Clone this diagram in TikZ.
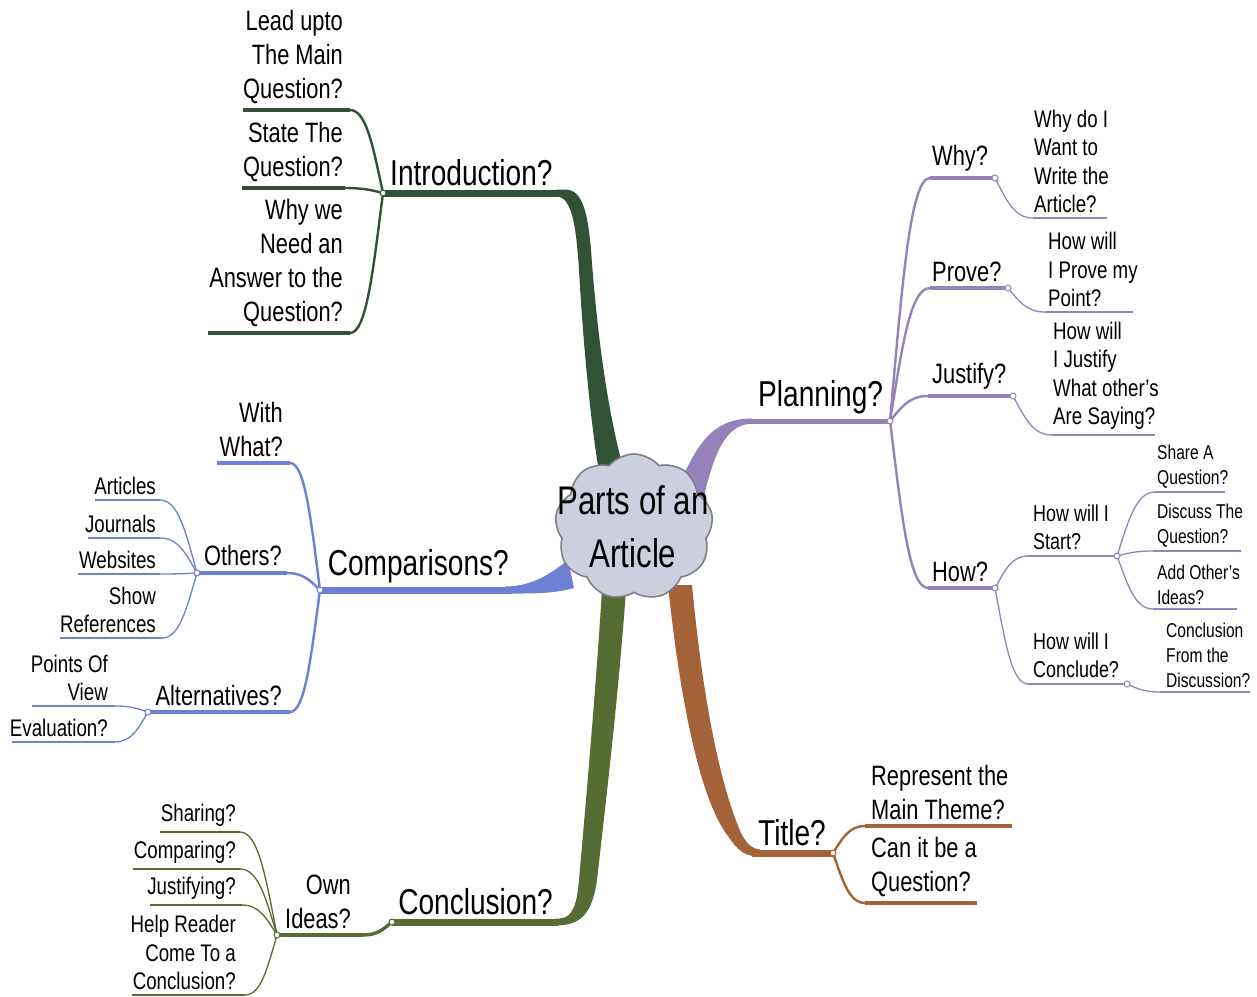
\documentclass[tikz,border=0pt]{standalone}
\usepackage{fontspec}
\setmainfont{Liberation Sans}[FakeStretch=0.78]
\usetikzlibrary{shapes.symbols,calc}

\definecolor{cIntro}{RGB}{50,82,55}
\definecolor{cConcl}{RGB}{86,108,50}
\definecolor{cComp}{RGB}{108,128,214}
\definecolor{cPlan}{RGB}{150,130,186}
\definecolor{cTitle}{RGB}{163,98,56}
\definecolor{cCloud}{RGB}{204,207,221}
\definecolor{cCloudEdge}{RGB}{128,128,132}

\tikzset{
  tA/.style={inner sep=0pt, font={\fontsize{36}{42}\selectfont}},
  tB/.style={inner sep=0pt, font={\fontsize{28}{34}\selectfont}},
  tC/.style={inner sep=0pt, font={\fontsize{24}{28.5}\selectfont}},
  tD/.style={inner sep=0pt, font={\fontsize{23}{28}\selectfont}},
  tE/.style={inner sep=0pt, font={\fontsize{20}{25}\selectfont}},
  lblL/.style={anchor=south east, align=right},
  lblR/.style={anchor=south west, align=left},
  link/.style={to path={let \p1=(\tikztostart), \p2=(\tikztotarget) in
      .. controls ({\x1+0.3*(\x2-\x1)},{\y1+0.55*(\y2-\y1)}) and ({\x2-0.5*(\x2-\x1)},\y2) .. (\tikztotarget)}},
  lk2/.style={link, line width=2.4pt, line cap=round},
  lk3/.style={link, line width=1.3pt, line cap=round},
  ul1/.style={line width=7pt},
  ul2/.style={line width=3.4pt},
  ul3/.style={line width=1.6pt},
  junc/.style={circle, fill=white, draw, line width=1pt, inner sep=0pt, minimum size=6pt},
}

\begin{document}
\begin{tikzpicture}[x=1pt,y=-1pt]
\fill[white] (0,0) rectangle (1257,996);
\useasboundingbox (0,0) rectangle (1257,996);

% ---------- anchor points of every topic line ----------
% Introduction
\coordinate (intro-j) at (383,193);  \coordinate (intro-e) at (560,193);
\coordinate (lead-a) at (350,110);   \coordinate (lead-b) at (243,110);
\coordinate (state-a) at (345,188);  \coordinate (state-b) at (242,188);
\coordinate (whywe-a) at (350,333);  \coordinate (whywe-b) at (208,333);
% Planning
\coordinate (plan-e) at (745,421);   \coordinate (plan-j) at (890,421);
\coordinate (why-a) at (930,178);    \coordinate (why-b) at (995,178);
\coordinate (whydo-a) at (1033,218); \coordinate (whydo-b) at (1107,218);
\coordinate (prove-a) at (930,288);  \coordinate (prove-b) at (1008,288);
\coordinate (prhow-a) at (1045,312); \coordinate (prhow-b) at (1133,312);
\coordinate (just-a) at (928,396);   \coordinate (just-b) at (1013,396);
\coordinate (jshow-a) at (1052,435); \coordinate (jshow-b) at (1155,435);
\coordinate (how-a) at (928,588);    \coordinate (how-b) at (995,588);
\coordinate (start-a) at (1028,556); \coordinate (start-b) at (1117,556);
\coordinate (share-a) at (1155,492); \coordinate (share-b) at (1225,492);
\coordinate (disc-a) at (1153,551);  \coordinate (disc-b) at (1241,551);
\coordinate (addo-a) at (1153,609);  \coordinate (addo-b) at (1237,609);
\coordinate (hconc-a) at (1028,684); \coordinate (hconc-b) at (1127,684);
\coordinate (cfrom-a) at (1160,692); \coordinate (cfrom-b) at (1250,692);
% Comparisons
\coordinate (comp-j) at (320,590);   \coordinate (comp-e) at (512,590);
\coordinate (with-a) at (290,463);   \coordinate (with-b) at (217,463);
\coordinate (oth-a) at (287,573);    \coordinate (oth-b) at (197,573);
\coordinate (alt-a) at (290,712);    \coordinate (alt-b) at (148,712);
\coordinate (art-a) at (160,500);    \coordinate (art-b) at (95,500);
\coordinate (jour-a) at (160,538);   \coordinate (jour-b) at (88,538);
\coordinate (web-a) at (160,574);    \coordinate (web-b) at (78,574);
\coordinate (sref-a) at (162,638);   \coordinate (sref-b) at (60,638);
\coordinate (pov-a) at (115,706);    \coordinate (pov-b) at (32,706);
\coordinate (eval-a) at (115,742);   \coordinate (eval-b) at (12,742);
% Conclusion
\coordinate (concl-j) at (392,922);  \coordinate (concl-e) at (558,922);
\coordinate (own-a) at (363,935);    \coordinate (own-b) at (277,935);
\coordinate (shar-a) at (240,832);   \coordinate (shar-b) at (160,832);
\coordinate (cmpg-a) at (240,869);   \coordinate (cmpg-b) at (133,869);
\coordinate (jstf-a) at (242,905);   \coordinate (jstf-b) at (150,905);
\coordinate (help-a) at (245,995);   \coordinate (help-b) at (132,995);
% Title
\coordinate (title-e) at (752,853);  \coordinate (title-j) at (833,853);
\coordinate (rep-a) at (865,826);    \coordinate (rep-b) at (1012,826);
\coordinate (canq-a) at (865,903);   \coordinate (canq-b) at (977,903);

% ---------- thick main branches ----------
\fill[cIntro] (556,189.5) -- (566,189.5) .. controls (583,190) and (588,215) .. (591,250)
  .. controls (596,320) and (606,410) .. (626,478) -- (600,478)
  .. controls (590,420) and (583,340) .. (579,270)
  .. controls (576,225) and (572,196.5) .. (556,196.5) -- cycle;
\fill[cPlan] (682,478) .. controls (698,445) and (712,418.5) .. (752,418.5) -- (752,423.5)
  .. controls (726,425) and (715,450) .. (703,500) -- cycle;
\fill[cComp] (505,586.5) .. controls (530,586.5) and (548,576) .. (568,560) -- (574,588)
  .. controls (552,594) and (532,593.5) .. (505,593.5) -- cycle;
\fill[cConcl] (555,918.5) -- (560,918.5) .. controls (572,918) and (577,905) .. (579,880)
  .. controls (586,800) and (595,700) .. (602,590) -- (626,590)
  .. controls (618,700) and (606,800) .. (597,880)
  .. controls (592,915) and (580,925.5) .. (555,925.5) -- cycle;
\fill[cTitle] (668,585) .. controls (680,700) and (700,800) .. (728,836)
  .. controls (738,851) and (745,856.5) .. (760,856.5) -- (760,849.5)
  .. controls (752,849) and (746,843) .. (741,833)
  .. controls (718,780) and (702,690) .. (692,585) -- cycle;

% ---------- main topic lines ----------
\draw[cIntro, ul1] (intro-j) -- (intro-e);
\draw[cPlan, line width=5pt] (plan-e) -- (plan-j);
\draw[cComp, ul1] (comp-j) -- (comp-e);
\draw[cConcl, ul1] (concl-j) -- (concl-e);
\draw[cTitle, ul1] (title-e) -- (title-j);

% ---------- Introduction sub-topics ----------
\begin{scope}[cIntro]
\draw[lk2] (intro-j) to (lead-a);  \draw[ul2] (lead-a) -- (lead-b);
\draw[lk2] (intro-j) to (state-a); \draw[ul2] (state-a) -- (state-b);
\draw[lk2] (intro-j) to (whywe-a); \draw[ul2] (whywe-a) -- (whywe-b);
\end{scope}

% ---------- Planning sub-topics ----------
\begin{scope}[cPlan]
\draw[lk2] (plan-j) to (why-a);   \draw[ul2] (why-a) -- (why-b);
\draw[lk2] (plan-j) to (prove-a); \draw[ul2] (prove-a) -- (prove-b);
\draw[lk2] (plan-j) to (just-a);  \draw[ul2] (just-a) -- (just-b);
\draw[lk2] (plan-j) to (how-a);   \draw[ul2] (how-a) -- (how-b);
\draw[lk3] (why-b) to (whydo-a);   \draw[ul3] (whydo-a) -- (whydo-b);
\draw[lk3] (prove-b) to (prhow-a); \draw[ul3] (prhow-a) -- (prhow-b);
\draw[lk3] (just-b) to (jshow-a);  \draw[ul3] (jshow-a) -- (jshow-b);
\draw[lk3] (how-b) to (start-a);   \draw[ul3] (start-a) -- (start-b);
\draw[lk3] (how-b) to (hconc-a);   \draw[ul3] (hconc-a) -- (hconc-b);
\draw[lk3] (start-b) to (share-a); \draw[ul3] (share-a) -- (share-b);
\draw[lk3] (start-b) to (disc-a);  \draw[ul3] (disc-a) -- (disc-b);
\draw[lk3] (start-b) to (addo-a);  \draw[ul3] (addo-a) -- (addo-b);
\draw[lk3] (hconc-b) to (cfrom-a); \draw[ul3] (cfrom-a) -- (cfrom-b);
\end{scope}

% ---------- Comparisons sub-topics ----------
\begin{scope}[cComp]
\draw[lk2] (comp-j) to (with-a); \draw[ul2] (with-a) -- (with-b);
\draw[lk2] (comp-j) to (oth-a);  \draw[ul2] (oth-a) -- (oth-b);
\draw[lk2] (comp-j) to (alt-a);  \draw[ul2] (alt-a) -- (alt-b);
\draw[lk3] (oth-b) to (art-a);   \draw[ul3] (art-a) -- (art-b);
\draw[lk3] (oth-b) to (jour-a);  \draw[ul3] (jour-a) -- (jour-b);
\draw[lk3] (oth-b) to (web-a);   \draw[ul3] (web-a) -- (web-b);
\draw[lk3] (oth-b) to (sref-a);  \draw[ul3] (sref-a) -- (sref-b);
\draw[lk3] (alt-b) to (pov-a);   \draw[ul3] (pov-a) -- (pov-b);
\draw[lk3] (alt-b) to (eval-a);  \draw[ul3] (eval-a) -- (eval-b);
\end{scope}

% ---------- Conclusion sub-topics ----------
\begin{scope}[cConcl]
\draw[lk2, line width=3.4pt] (concl-j) to (own-a); \draw[ul2] (own-a) -- (own-b);
\draw[lk3] (own-b) to (shar-a); \draw[ul3] (shar-a) -- (shar-b);
\draw[lk3] (own-b) to (cmpg-a); \draw[ul3] (cmpg-a) -- (cmpg-b);
\draw[lk3] (own-b) to (jstf-a); \draw[ul3] (jstf-a) -- (jstf-b);
\draw[lk3] (own-b) to (help-a); \draw[ul3] (help-a) -- (help-b);
\end{scope}

% ---------- Title sub-topics ----------
\begin{scope}[cTitle]
\draw[lk2] (title-j) to (rep-a);  \draw[ul2] (rep-a) -- (rep-b);
\draw[lk2] (title-j) to (canq-a); \draw[ul2] (canq-a) -- (canq-b);
\end{scope}

% ---------- central topic ----------
\node[cloud, cloud puffs=9, cloud puff arc=100, aspect=1.05,
      minimum width=158pt, minimum height=146pt,
      fill=cCloud, draw=cCloudEdge, line width=1.6pt] (core) at (634,527) {};
\node[inner sep=0pt, align=center, font={\fontsize{40}{53}\selectfont}] (coretext) at (633,527) {Parts of an\\Article};

% ---------- junction circles ----------
\node[junc, draw=cIntro] (jc-intro) at (intro-j) {};
\node[junc, draw=cPlan] (jc-plan) at (plan-j) {};
\node[junc, draw=cPlan] (jc-why) at (why-b) {};
\node[junc, draw=cPlan] (jc-prove) at (prove-b) {};
\node[junc, draw=cPlan] (jc-just) at (just-b) {};
\node[junc, draw=cPlan] (jc-how) at (how-b) {};
\node[junc, draw=cPlan] (jc-start) at (start-b) {};
\node[junc, draw=cPlan] (jc-hconc) at (hconc-b) {};
\node[junc, draw=cComp] (jc-comp) at (comp-j) {};
\node[junc, draw=cComp] (jc-oth) at (oth-b) {};
\node[junc, draw=cComp] (jc-alt) at (alt-b) {};
\node[junc, draw=cConcl] (jc-concl) at (concl-j) {};
\node[junc, draw=cConcl] (jc-own) at (own-b) {};
\node[junc, draw=cTitle] (jc-title) at (title-j) {};

% ---------- labels ----------
% Introduction
\node[tA, lblR] (intro) at (390,186) {Introduction?};
\node[tB, lblL] (lead) at (343,104) {Lead upto\\The Main\\Question?};
\node[tB, lblL] (state) at (343,182) {State The\\Question?};
\node[tB, lblL] (whywe) at (343,327) {Why we\\Need an\\Answer to the\\Question?};
% Planning
\node[tA, lblR] (plan) at (758,414) {Planning?};
\node[tB, lblR] (why) at (932,172) {Why?};
\node[tC, lblR] (whydo) at (1034,213) {Why do I\\Want to\\Write the\\Article?};
\node[tB, lblR] (prove) at (932,282) {Prove?};
\node[tC, lblR] (prhow) at (1048,307) {How will\\I Prove my\\Point?};
\node[tB, lblR] (just) at (932,390) {Justify?};
\node[tC, lblR] (jshow) at (1053,430) {How will\\I Justify\\What other's\\Are Saying?};
\node[tB, lblR] (how) at (932,582) {How?};
\node[tD, lblR] (start) at (1033,550) {How will I\\Start?};
\node[tE, lblR] (share) at (1157,488) {Share A\\Question?};
\node[tE, lblR] (disc) at (1157,547) {Discuss The\\Question?};
\node[tE, lblR] (addo) at (1157,605) {Add Other's\\Ideas?};
\node[tD, lblR] (hconc) at (1033,678) {How will I\\Conclude?};
\node[tE, lblR] (cfrom) at (1166,688) {Conclusion\\From the\\Discussion?};
% Comparisons
\node[tA, lblL] (comp) at (509,583) {Comparisons?};
\node[tB, lblL] (with) at (283,457) {With\\What?};
\node[tB, lblL] (oth) at (282,566) {Others?};
\node[tB, lblL] (alt) at (282,706) {Alternatives?};
\node[tC, lblL] (art) at (156,495) {Articles};
\node[tC, lblL] (jour) at (156,533) {Journals};
\node[tC, lblL] (web) at (156,569) {Websites};
\node[tC, lblL] (sref) at (156,633) {Show\\References};
\node[tC, lblL] (pov) at (108,701) {Points Of\\View};
\node[tC, lblL] (eval) at (108,737) {Evaluation?};
% Conclusion
\node[tA, lblL] (concl) at (553,915) {Conclusion?};
\node[tB, lblL] (own) at (351,929) {Own\\Ideas?};
\node[tC, lblL] (shar) at (236,827) {Sharing?};
\node[tC, lblL] (cmpg) at (236,864) {Comparing?};
\node[tC, lblL] (jstf) at (236,900) {Justifying?};
\node[tC, lblL] (help) at (236,990) {Help Reader\\Come To a\\Conclusion?};
% Title
\node[tA, lblR] (title) at (758,846) {Title?};
\node[tB, lblR] (rep) at (871,820) {Represent the\\Main Theme?};
\node[tB, lblR] (canq) at (871,897) {Can it be a\\Question?};
\end{tikzpicture}
\end{document}
